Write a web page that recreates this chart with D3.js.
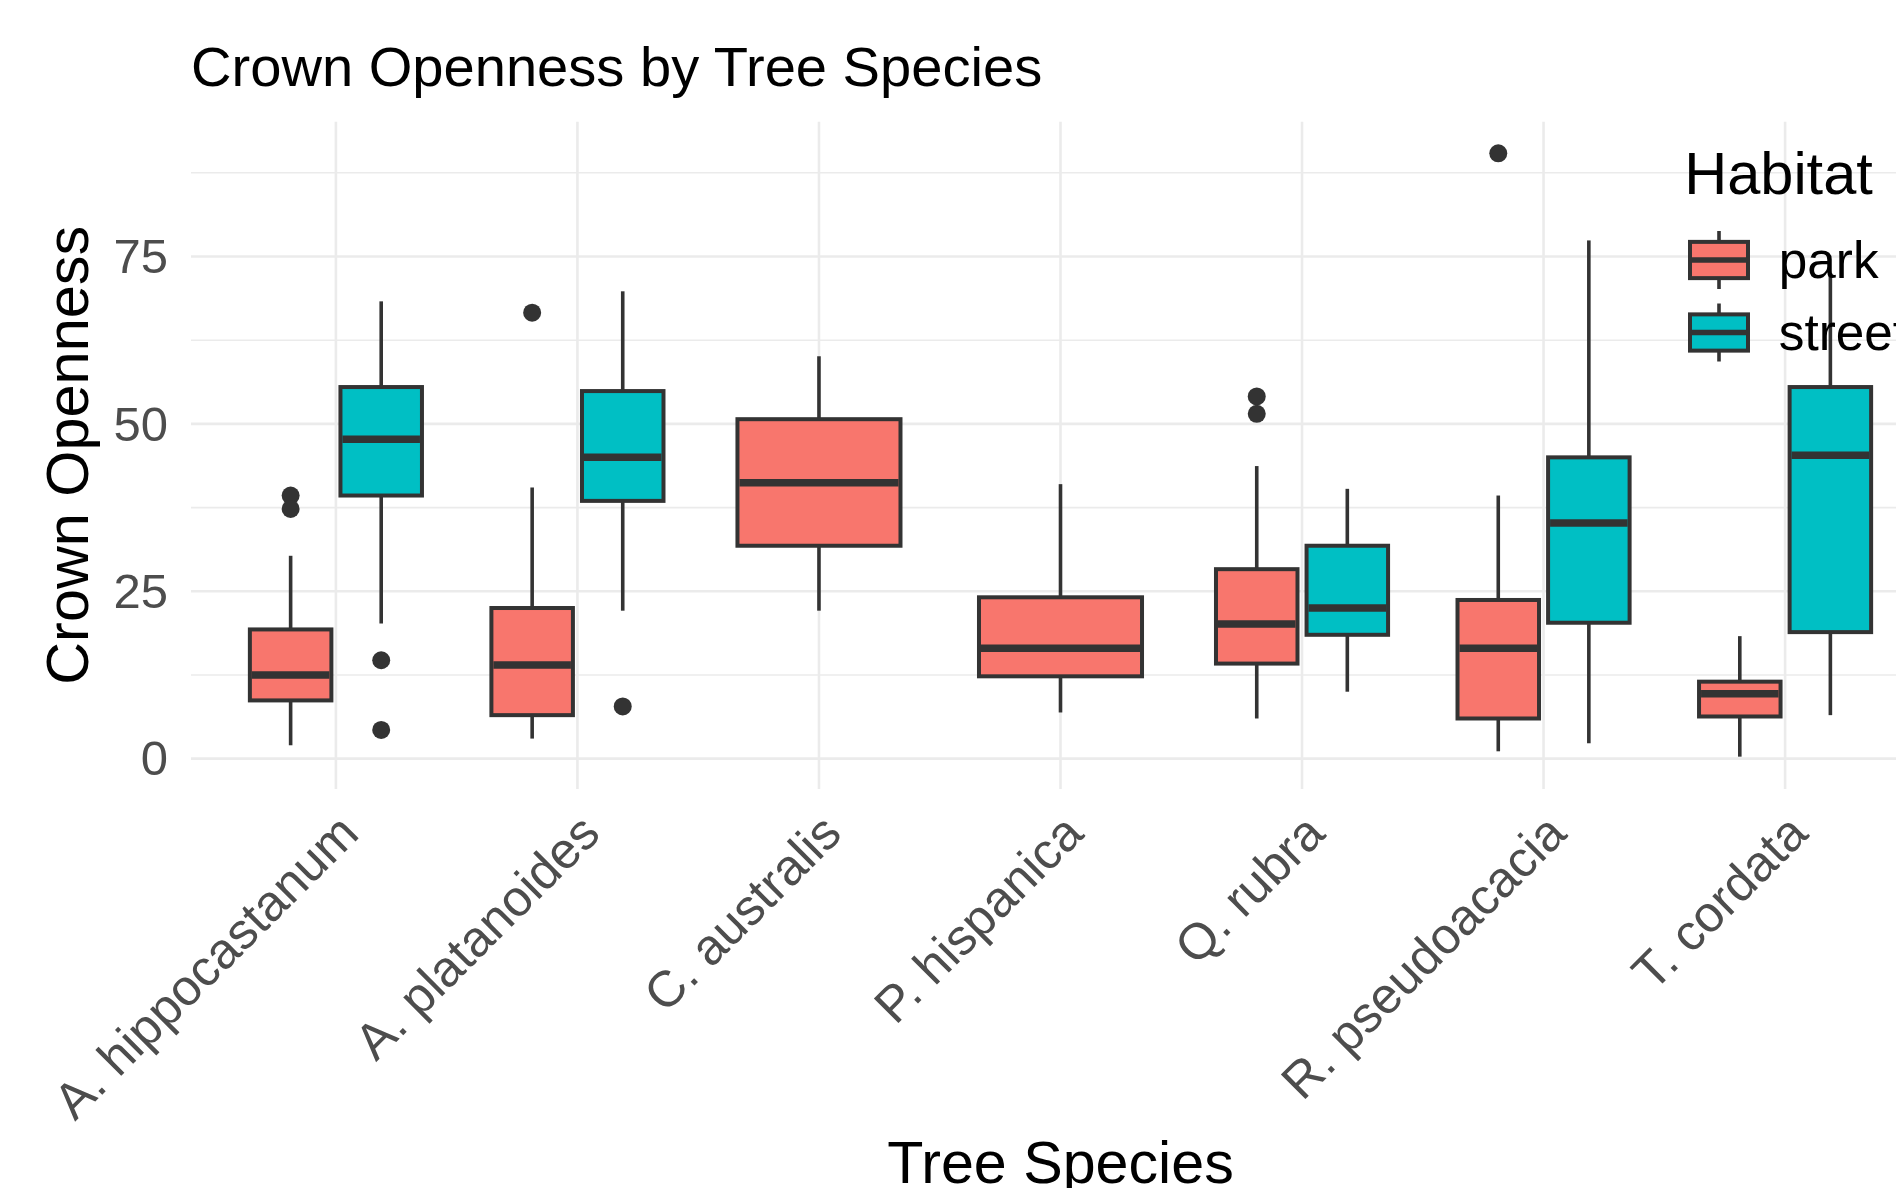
<!DOCTYPE html>
<html>
<head>
<meta charset="utf-8">
<script src="https://cdn.jsdelivr.net/npm/d3@7"></script>
<style>
  body { margin: 0; background: #fff; }
  text { font-family: "Liberation Sans", Arial, Helvetica, sans-serif; }
</style>
</head>
<body>
<div id="chart"></div>
<script>
// Categories
const species = ["A. hippocastanum", "A. platanoides", "C. australis", "P. hispanica", "Q. rubra", "R. pseudoacacia", "T. cordata"];
const habitats = ["park", "street"];
const habitatColors = ["#F8766D", "#00BFC4"];
const yTicks = [0, 25, 50, 75];
const yMinorTicks = [12.5, 37.5, 62.5, 87.5];

// Box stats per species: [lower whisker, Q1, median, Q3, upper whisker]
const parkStats = [
  [2.0, 8.7, 12.5, 19.3, 30.3],
  [3.0, 6.5, 14.0, 22.5, 40.5],
  [22.1, 31.8, 41.2, 50.7, 60.1],
  [6.9, 12.3, 16.5, 24.1, 41.0],
  [6.0, 14.2, 20.1, 28.3, 43.7],
  [1.1, 6.0, 16.5, 23.7, 39.3],
  [0.3, 6.3, 9.7, 11.5, 18.3]
];
const streetStats = [
  [20.2, 39.3, 47.7, 55.5, 68.3],
  [22.1, 38.5, 45.0, 54.9, 69.8],
  null,
  null,
  [10.0, 18.5, 22.5, 31.8, 40.3],
  [2.3, 20.3, 35.2, 45.0, 77.4],
  [6.5, 18.9, 45.3, 55.5, 72.5]
];
const parkOutliers = [[39.3, 37.3], [66.6], [], [], [54.1, 51.5], [90.4], []];
const streetOutliers = [[14.7, 4.3], [7.8], [], [], [], [], []];

/************************************
 * Draw boxplot
 ************************************/
const drawBoxPlot = (id) => {
  const w = 1896;
  const h = 1188;
  const panel = { left: 191, right: 1930, top: 121.7, bottom: 789 };
  const line = "#333333";

  const svg = d3.select(id)
    .append("svg")
    .attr("width", w)
    .attr("height", h)
    .style("display", "block");

  svg.append("rect").attr("width", w).attr("height", h).attr("fill", "#fff");

  // Scales
  const xScale = d3.scalePoint()
    .domain(species)
    .range([panel.left, panel.right])
    .padding(0.6);
  const step = xScale.step();

  const yScale = d3.scaleLinear()
    .domain([-4.53, 95.13])
    .range([panel.bottom, panel.top]);

  // Grid
  const grid = svg.append("g");
  grid.selectAll(".minor")
    .data(yMinorTicks)
    .enter()
    .append("line")
    .attr("x1", panel.left).attr("x2", panel.right)
    .attr("y1", d => yScale(d)).attr("y2", d => yScale(d))
    .attr("stroke", "#EBEBEB").attr("stroke-width", 1.6);
  grid.selectAll(".major")
    .data(yTicks)
    .enter()
    .append("line")
    .attr("x1", panel.left).attr("x2", panel.right)
    .attr("y1", d => yScale(d)).attr("y2", d => yScale(d))
    .attr("stroke", "#EBEBEB").attr("stroke-width", 2.6);
  grid.selectAll(".vmajor")
    .data(species)
    .enter()
    .append("line")
    .attr("x1", d => xScale(d)).attr("x2", d => xScale(d))
    .attr("y1", panel.top).attr("y2", panel.bottom)
    .attr("stroke", "#EBEBEB").attr("stroke-width", 2.6);

  // Build box records
  const boxes = [];
  species.forEach((s, i) => {
    const pair = [parkStats[i], streetStats[i]];
    const outs = [parkOutliers[i], streetOutliers[i]];
    const n = pair.filter(p => p).length;
    pair.forEach((st, j) => {
      if (!st) return;
      const bw = n === 1 ? step * 0.675 : step * 0.3375;
      const cx = n === 1 ? xScale(s) : xScale(s) + (j === 0 ? -1 : 1) * step * 0.1875;
      boxes.push({ cx: cx, bw: bw, st: st, out: outs[j], color: habitatColors[j] });
    });
  });

  const g = svg.append("g");
  const box = g.selectAll(".box")
    .data(boxes)
    .enter()
    .append("g");

  box.append("line")
    .attr("x1", d => d.cx).attr("x2", d => d.cx)
    .attr("y1", d => yScale(d.st[3])).attr("y2", d => yScale(d.st[4]))
    .attr("stroke", line).attr("stroke-width", 3.6);
  box.append("line")
    .attr("x1", d => d.cx).attr("x2", d => d.cx)
    .attr("y1", d => yScale(d.st[1])).attr("y2", d => yScale(d.st[0]))
    .attr("stroke", line).attr("stroke-width", 3.6);
  box.append("rect")
    .attr("x", d => d.cx - d.bw / 2)
    .attr("width", d => d.bw)
    .attr("y", d => yScale(d.st[3]))
    .attr("height", d => yScale(d.st[1]) - yScale(d.st[3]))
    .attr("fill", d => d.color)
    .attr("stroke", line).attr("stroke-width", 4);
  box.append("line")
    .attr("x1", d => d.cx - d.bw / 2 + 2).attr("x2", d => d.cx + d.bw / 2 - 2)
    .attr("y1", d => yScale(d.st[2])).attr("y2", d => yScale(d.st[2]))
    .attr("stroke", line).attr("stroke-width", 7.5);
  box.selectAll("circle")
    .data(d => d.out.map(v => ({ cx: d.cx, v: v })))
    .enter()
    .append("circle")
    .attr("cx", d => d.cx)
    .attr("cy", d => yScale(d.v))
    .attr("r", 9)
    .attr("fill", line);

  // Axes labels
  svg.selectAll(".ytick")
    .data(yTicks)
    .enter()
    .append("text")
    .attr("x", 168)
    .attr("y", d => yScale(d))
    .attr("dy", "0.34em")
    .attr("text-anchor", "end")
    .attr("font-size", 49)
    .attr("fill", "#4D4D4D")
    .text(d => d);

  svg.selectAll(".xtick")
    .data(species)
    .enter()
    .append("text")
    .attr("transform", d => "translate(" + (xScale(d) + 25) + ",836) rotate(-45)")
    .attr("text-anchor", "end")
    .attr("font-size", 50.5)
    .attr("fill", "#4D4D4D")
    .text(d => d);

  // Titles
  svg.append("text")
    .attr("x", 191).attr("y", 86)
    .attr("font-size", 56.1)
    .attr("fill", "#000")
    .text("Crown Openness by Tree Species");

  svg.append("text")
    .attr("transform", "translate(88," + ((panel.top + panel.bottom) / 2) + ") rotate(-90)")
    .attr("text-anchor", "middle")
    .attr("font-size", 59.4)
    .attr("fill", "#000")
    .text("Crown Openness");

  svg.append("text")
    .attr("x", (panel.left + panel.right) / 2).attr("y", 1183)
    .attr("text-anchor", "middle")
    .attr("font-size", 59.2)
    .attr("fill", "#000")
    .text("Tree Species");

  // Legend
  const key = 72.5;
  const legend = svg.append("g").attr("transform", "translate(1682.75,223.75)");
  legend.append("text")
    .attr("x", 1.5).attr("y", -29.5)
    .attr("font-size", 59.5)
    .attr("fill", "#000")
    .text("Habitat");

  const item = legend.selectAll(".item")
    .data(habitats)
    .enter()
    .append("g")
    .attr("transform", (d, i) => "translate(0," + i * key + ")");
  item.append("line")
    .attr("x1", key / 2).attr("x2", key / 2)
    .attr("y1", key * 0.1).attr("y2", key * 0.9)
    .attr("stroke", line).attr("stroke-width", 3.6);
  item.append("rect")
    .attr("x", key * 0.1).attr("width", key * 0.8)
    .attr("y", key * 0.25).attr("height", key * 0.5)
    .attr("fill", (d, i) => habitatColors[i])
    .attr("stroke", line).attr("stroke-width", 4);
  item.append("line")
    .attr("x1", key * 0.1).attr("x2", key * 0.9)
    .attr("y1", key / 2).attr("y2", key / 2)
    .attr("stroke", line).attr("stroke-width", 5.5);
  item.append("text")
    .attr("x", 96).attr("y", key / 2)
    .attr("dy", "0.35em")
    .attr("font-size", 51.3)
    .attr("fill", "#000")
    .text(d => d);
};

drawBoxPlot("#chart");
</script>
</body>
</html>
